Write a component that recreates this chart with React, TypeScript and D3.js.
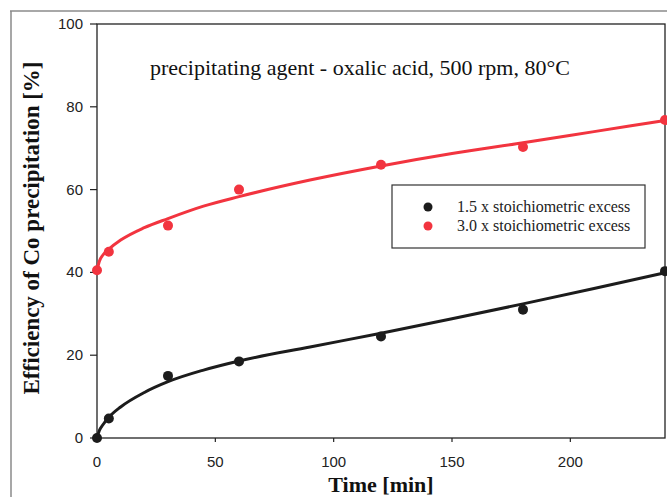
import React from "react";
import * as d3 from "d3";

const times = [0, 5, 30, 60, 120, 180, 240];
const series15 = [0, 4.7, 15.0, 18.5, 24.5, 31.0, 40.3];
const series30 = [40.5, 45.0, 51.3, 60.0, 66.0, 70.3, 76.8];

// fitted trend lines
const fitTimes = [0, 1, 2.5, 5, 10, 20, 30, 45, 60, 90, 120, 150, 180, 210, 240];
const fit15 = [0, 1.8, 3.2, 5.0, 7.5, 11.0, 13.6, 16.4, 18.6, 22.0, 25.3, 28.8, 32.4, 36.1, 39.9];
const fit30 = [40.5, 42.7, 44.2, 45.6, 47.8, 50.8, 53.0, 56.0, 58.3, 62.3, 65.7, 68.7, 71.3, 74.0, 76.7];

const xTicks = [0, 50, 100, 150, 200];
const yTicks = [0, 20, 40, 60, 80, 100];

const labels = ["1.5 x stoichiometric excess", "3.0 x stoichiometric excess"];
const titleText = "precipitating agent - oxalic acid, 500 rpm, 80\u00B0C";
const xTitle = "Time [min]";
const yTitle = "Efficiency of Co precipitation [%]";

const W = 667;
const H = 497;
const left = 97;
const right = 665;
const top = 24;
const bottom = 438;

const BLACK = "#1c1c1c";
const RED = "#f2343f";

export default function App() {
  const x = d3.scaleLinear().domain([0, 240]).range([left, right]);
  const y = d3.scaleLinear().domain([0, 100]).range([bottom, top]);

  const line = d3
    .line<number>()
    .x((_, i) => x(fitTimes[i]))
    .curve(d3.curveMonotoneX);

  const path15 = line.y((d) => y(d))(fit15) || "";
  const path30 = line.y((d) => y(d))(fit30) || "";

  const serif = "'Liberation Serif', 'Times New Roman', serif";
  const sans = "'Liberation Sans', Arial, sans-serif";

  return (
    <svg
      width={W}
      height={H}
      style={{ position: "absolute", left: 0, top: 0, background: "#fff" }}
    >
      <rect x={0} y={0} width={W} height={H} fill="#fff" />
      {/* outer frame */}
      <line x1={10} x2={W} y1={11} y2={11} stroke="#a8a8a8" strokeWidth={2} />
      <line x1={11} x2={11} y1={11} y2={H} stroke="#8a8a8a" strokeWidth={1.5} />

      {/* plot frame */}
      <rect
        x={left}
        y={top}
        width={right - left}
        height={bottom - top}
        fill="none"
        stroke="#222"
        strokeWidth={1.3}
      />

      {/* y ticks */}
      {yTicks.map((t) => (
        <g key={"y" + t}>
          <line x1={left - 7} x2={left} y1={y(t)} y2={y(t)} stroke="#222" strokeWidth={1.2} />
          <text
            x={left - 14}
            y={y(t) + 5}
            textAnchor="end"
            fontFamily={sans}
            fontSize={15}
            fill="#222"
          >
            {t}
          </text>
        </g>
      ))}

      {/* x ticks */}
      {xTicks.map((t) => (
        <g key={"x" + t}>
          <line x1={x(t)} x2={x(t)} y1={bottom} y2={bottom + 4} stroke="#222" strokeWidth={1.2} />
          <text
            x={x(t)}
            y={bottom + 29}
            textAnchor="middle"
            fontFamily={sans}
            fontSize={15}
            fill="#222"
          >
            {t}
          </text>
        </g>
      ))}

      {/* axis titles */}
      <text
        x={(left + right) / 2}
        y={492}
        textAnchor="middle"
        fontFamily={serif}
        fontWeight="bold"
        fontSize={22}
        fill="#111"
      >
        {xTitle}
      </text>
      <text
        transform={`translate(39, 228) rotate(-90)`}
        textAnchor="middle"
        fontFamily={serif}
        fontWeight="bold"
        fontSize={23}
        fill="#111"
      >
        {yTitle}
      </text>

      {/* plot title */}
      <text x={150} y={75} fontFamily={serif} fontSize={22} fill="#111">
        {titleText}
      </text>

      {/* fitted lines */}
      <path d={path30} fill="none" stroke={RED} strokeWidth={3} />
      <path d={path15} fill="none" stroke={BLACK} strokeWidth={3} />

      {/* data points */}
      {times.map((t, i) => (
        <circle key={"r" + t} cx={x(t)} cy={y(series30[i])} r={5} fill={RED} />
      ))}
      {times.map((t, i) => (
        <circle key={"b" + t} cx={x(t)} cy={y(series15[i])} r={5} fill={BLACK} />
      ))}

      {/* legend */}
      <rect x={392} y={185} width={253} height={63} fill="#fff" stroke="#333" strokeWidth={1.2} />
      {labels.map((l, i) => (
        <g key={l}>
          <circle cx={428} cy={207 + i * 19} r={4.5} fill={i === 0 ? BLACK : RED} />
          <text x={457} y={212 + i * 19} fontFamily={serif} fontSize={16} fill="#222">
            {l}
          </text>
        </g>
      ))}
    </svg>
  );
}
